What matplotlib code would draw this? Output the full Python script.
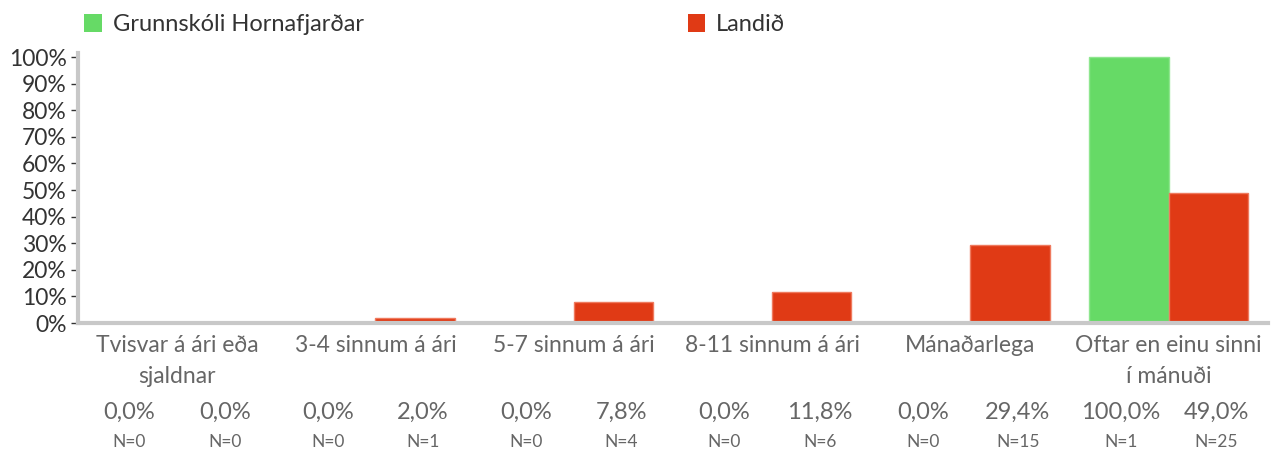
import matplotlib
matplotlib.use('Agg')
import matplotlib.pyplot as plt
from matplotlib.patches import Patch
from matplotlib.transforms import blended_transform_factory

plt.rcParams['font.family'] = ['Lato', 'DejaVu Sans']

categories = ['Tvisvar á ári eða\nsjaldnar', '3-4 sinnum á ári', '5-7 sinnum á ári',
              '8-11 sinnum á ári', 'Mánaðarlega', 'Oftar en einu sinni\ní mánuði']
series_names = ['Grunnskóli Hornafjarðar', 'Landið']
school = [0.0, 0.0, 0.0, 0.0, 0.0, 100.0]
country = [0.0, 2.0, 7.8, 11.8, 29.4, 49.0]
school_n = [0, 0, 0, 0, 0, 1]
country_n = [0, 1, 4, 6, 15, 25]
yticks = [0, 10, 20, 30, 40, 50, 60, 70, 80, 90, 100]

green = '#66da66'
red = '#e03a15'
grey = '#666666'

fig = plt.figure(figsize=(12.78, 4.5), dpi=100)
ax = fig.add_axes([0.061, 0.282, 0.931, 0.600])

x = list(range(len(categories)))
w = 0.4
ax.bar([i - w / 2 for i in x], school, width=w, color=green, edgecolor='#8fe68f', linewidth=1)
ax.bar([i + w / 2 for i in x], country, width=w, color=red, edgecolor='#ef7a5e', linewidth=1)

ax.set_xlim(-0.5, len(categories) - 0.5)
ax.set_ylim(0, 101.5)
ax.set_yticks(yticks)
ax.set_yticklabels([f'{t}%' for t in yticks], fontsize=16.5, color='#333333')
ax.set_xticks([])
ax.tick_params(axis='y', length=5, width=1, color='#333333', pad=3)

for s in ['top', 'right']:
    ax.spines[s].set_visible(False)
for s in ['left', 'bottom']:
    ax.spines[s].set_color('#c8c8c8')
    ax.spines[s].set_linewidth(3)

tr = blended_transform_factory(ax.transData, ax.transAxes)
for i, cat in enumerate(categories):
    ax.text(i, -0.045, cat, transform=tr, ha='center', va='top', fontsize=16.5,
            color=grey, linespacing=1.55)
    for off, val, n in [(-0.24, school[i], school_n[i]), (0.24, country[i], country_n[i])]:
        ax.text(i + off, -0.33, f'{val:.1f}%'.replace('.', ','), transform=tr,
                ha='center', va='center', fontsize=17, color=grey)
        ax.text(i + off, -0.44, f'N={n}', transform=tr,
                ha='center', va='center', fontsize=12.5, color=grey)

for name, col, xpos in [(series_names[0], green, 0.066), (series_names[1], red, 0.538)]:
    fig.legend(handles=[Patch(facecolor=col, label=name)], loc='center left',
               bbox_to_anchor=(xpos, 0.945), frameon=False, fontsize=17,
               handlelength=0.75, handleheight=0.75, handletextpad=0.45,
               labelcolor='#333333', borderaxespad=0, borderpad=0)

fig.savefig('out.png', dpi=100)
